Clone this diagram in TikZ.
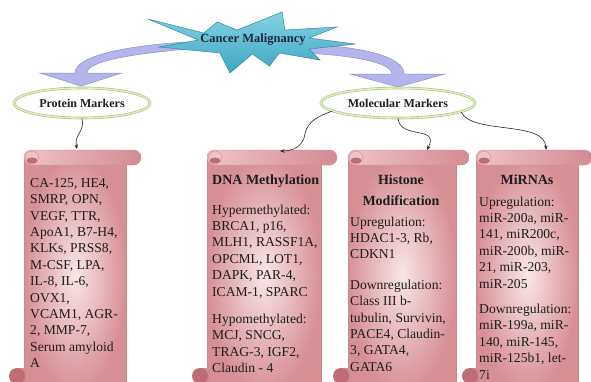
\documentclass[tikz,border=0pt]{standalone}
\usepackage{fontspec}
\setmainfont{Liberation Serif}
\usetikzlibrary{shapes.geometric,arrows.meta}
\definecolor{scrollin}{HTML}{F8E6E7}
\definecolor{scrollout}{HTML}{D78F96}
\definecolor{rollL}{HTML}{EEC4C7}
\definecolor{rollR}{HTML}{D38B92}
\definecolor{curldark}{HTML}{BE6D76}
\definecolor{scrollline}{HTML}{C88890}
\definecolor{starhi}{HTML}{86D2E3}
\definecolor{starlo}{HTML}{3DA7C2}
\definecolor{starline}{HTML}{3189A1}
\definecolor{arrowfill}{HTML}{B5B5EE}
\definecolor{arrowline}{HTML}{8E8EC4}
\definecolor{ellline}{HTML}{A9C26F}
\definecolor{ellmid}{HTML}{E4EECB}
\definecolor{txt}{HTML}{1E1E1E}
\definecolor{navy}{HTML}{1C2740}
\newcommand{\myscroll}[4]{%
  \shadedraw[inner color=scrollin, outer color=scrollout, draw=scrollline, line width=.4pt] (#2,157) rectangle (#3,392);
  \fill[rollR] (#1+8,368) rectangle (#2+3,392);
  \fill[curldark] (#1+8,376) circle (8);
  \shadedraw[left color=rollL, right color=rollR, draw=scrollline, line width=.4pt, rounded corners=7.5pt] (#2,150) rectangle (#4,165);
  \draw[scrollline, fill=rollL, line width=.4pt] (#2+8,157.5) circle (6.5);
  \fill[curldark] (#2+8,160.5) ellipse (5.5 and 3);
}
\tikzset{
  bodytxt/.style={anchor=north west, align=left, inner sep=0pt, text=txt, font=\fontsize{13.6}{16.4}\selectfont},
  headtxt/.style={inner sep=0pt, text=txt, font=\bfseries\fontsize{14}{21}\selectfont},
  ell/.style={ellipse, draw=ellline, double=ellmid, double distance=1.4pt, line width=.6pt, fill=white, inner sep=0pt, font=\bfseries\fontsize{12}{14}\selectfont, text=txt},
  conn/.style={-{Stealth[length=4.5pt,width=3.5pt]}, line width=.6pt, black!85},
  bigarrow/.style={fill=arrowfill, draw=arrowline, line width=.5pt},
}
\begin{document}
\begin{tikzpicture}[x=1pt,y=-1pt]
\useasboundingbox (0,0) rectangle (591,381);
\clip (0,0) rectangle (591,381);
\fill[white] (0,0) rectangle (591,381);

% big curved arrows
\path[bigarrow] (185,42) .. controls (125,46) and (75,56) .. (75,73) -- (40,73) -- (81,86) -- (122,73) -- (87,73) .. controls (87,62) and (125,54) .. (200,48) -- cycle;
\path[bigarrow] (300,44) .. controls (360,46) and (404,56) .. (404,74) -- (445,74) -- (398,87) -- (350,74) -- (392,74) .. controls (392,63) and (355,55) .. (300,53) -- cycle;

% star
\shadedraw[top color=starhi, bottom color=starlo, draw=starline, line width=.5pt]
 (148,19) -- (203.8,33) -- (217.3,22) -- (237.1,30) -- (282.1,12) -- (284.8,30) -- (337,27) -- (309.1,38) -- (355,44) -- (309.1,49) -- (319.9,60) -- (279.4,53) -- (269.5,66) -- (252.4,54) -- (229.9,73) -- (220,53) -- (158.8,47) -- (198.4,40) -- cycle;
\node[inner sep=0pt, text=navy, font=\bfseries\fontsize{12.5}{14}\selectfont] (cm) at (253,40) {Cancer Malignancy};

% ellipses
\node[ell, minimum width=136pt, minimum height=30pt] (pm) at (82,103) {Protein Markers};
\node[ell, minimum width=154pt, minimum height=30pt] (mm) at (398,103) {Molecular Markers};

% scrolls
\myscroll{9}{24}{126}{141}
\myscroll{192}{207}{321}{337}
\myscroll{333}{348}{456}{469}
\myscroll{462}{476}{578}{592}

\coordinate (s1top) at (77,149);
\coordinate (s2top) at (280,151);
\coordinate (s3top) at (427,150);
\coordinate (s4top) at (546,150);

% connectors
\draw[conn] (pm.south) .. controls (85,132) and (74,134) .. (s1top);
\draw[conn] (mm.187) .. controls (318,116) and (307,122) .. (305,134) .. controls (303,147) and (292,151) .. (s2top);
\draw[conn] (mm.south) .. controls (400,140) and (440,125) .. (s3top);
\draw[conn] (mm.352) .. controls (472,135) and (545,120) .. (s4top);

% texts
\node[bodytxt] (p1) at (30,178) {CA-125, HE4,\\SMRP, OPN,\\VEGF, TTR,\\ApoA1, B7-H4,\\KLKs, PRSS8,\\M-CSF, LPA,\\IL-8, IL-6,\\OVX1,\\VCAM1, AGR-\\2, MMP-7,\\Serum amyloid\\A};

\node[headtxt, anchor=base west] (dh) at (212,184) {DNA Methylation};
\node[bodytxt] (db) at (212,204.5) {Hypermethylated:\\BRCA1, p16,\\MLH1, RASSF1A,\\OPCML, LOT1,\\DAPK, PAR-4,\\ICAM-1, SPARC\\[11pt]Hypomethylated:\\MCJ, SNCG,\\TRAG-3, IGF2,\\Claudin - 4};

\node[headtxt, anchor=north, align=center] (hh) at (401,174.5) {Histone\\Modification};
\node[bodytxt] (hb) at (350,216.5) {Upregulation:\\HDAC1-3, Rb,\\CDKN1\\[14pt]Downregulation:\\Class III b-\\tubulin, Survivin,\\PACE4, Claudin-\\3, GATA4,\\GATA6};

\node[headtxt, anchor=base] (mh) at (527,184) {MiRNAs};
\node[bodytxt] (mb) at (479,196.5) {Upregulation:\\miR-200a, miR-\\141, miR200c,\\miR-200b, miR-\\21, miR-203,\\miR-205\\[9pt]Downregulation:\\miR-199a, miR-\\140, miR-145,\\miR-125b1, let-\\7i};
\end{tikzpicture}
\end{document}
